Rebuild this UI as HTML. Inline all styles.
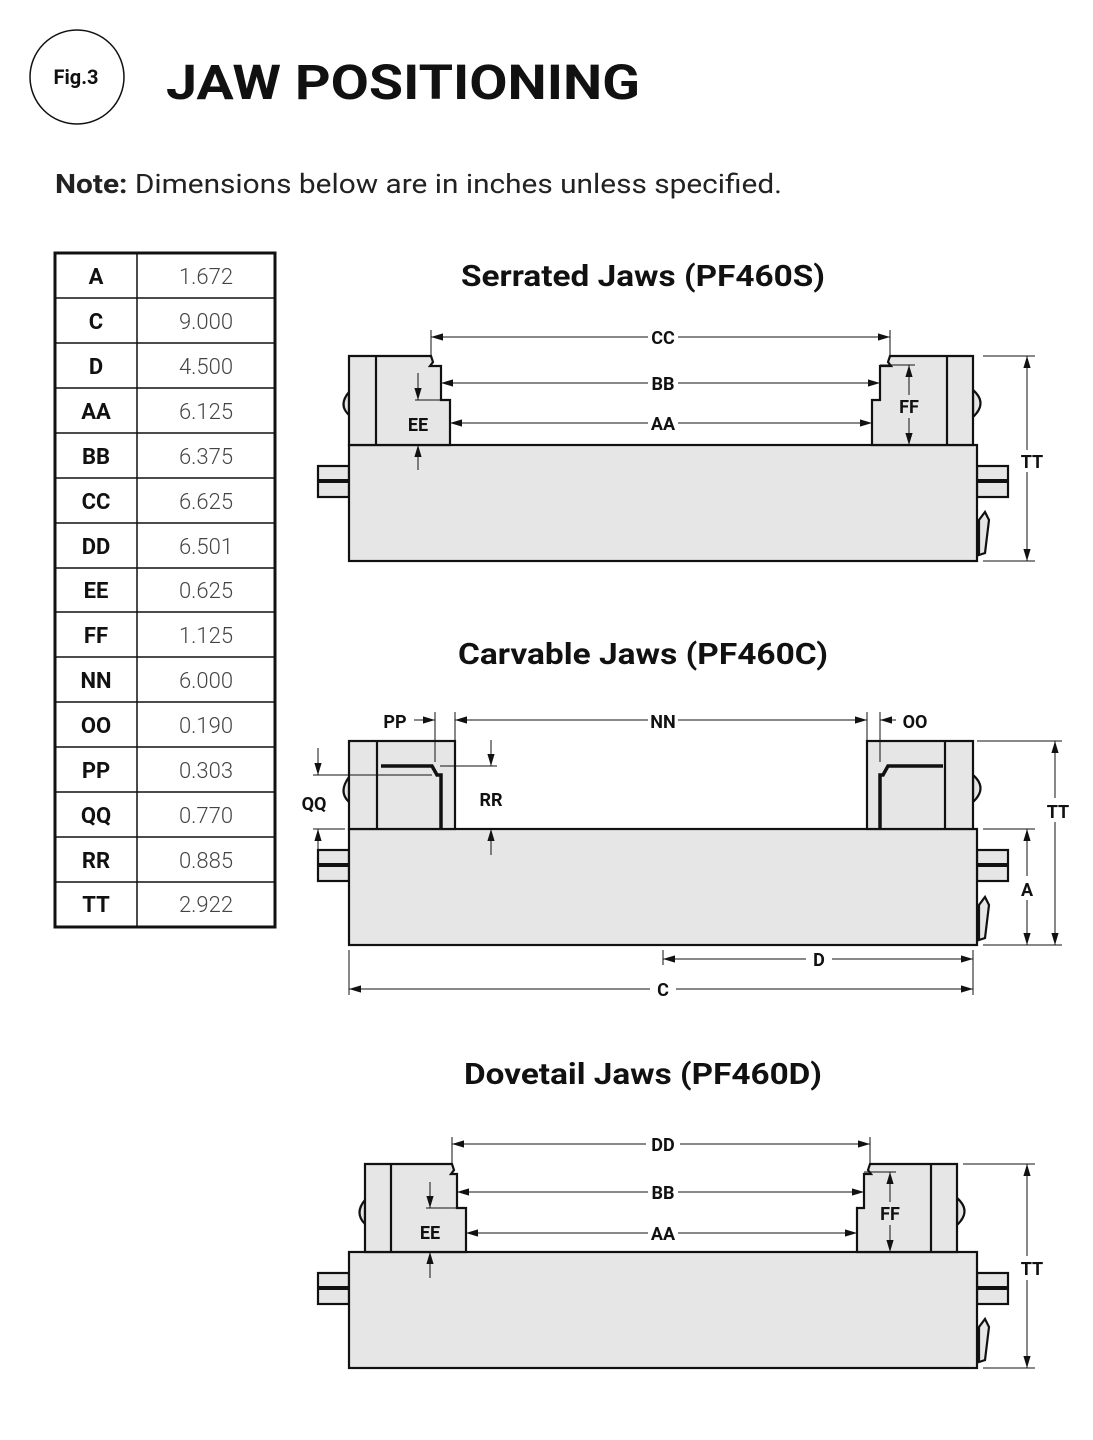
<!DOCTYPE html>
<html><head><meta charset="utf-8"><style>
body{margin:0;background:#fff;}
svg{display:block;font-family:"Roboto","Liberation Sans",sans-serif;}
</style></head><body>
<svg width="1093" height="1440" viewBox="0 0 1093 1440" xmlns="http://www.w3.org/2000/svg">
<defs>
<marker id="a" viewBox="0 0 10 10" refX="10" refY="5" markerWidth="12" markerHeight="12" markerUnits="userSpaceOnUse" orient="auto"><path d="M0,2 L10,5 L0,8 z" fill="#111"/></marker>
</defs>
<circle cx="77" cy="77" r="47" fill="none" stroke="#111" stroke-width="1.5"/>
<text x="76" y="84" font-size="20" font-weight="bold" text-anchor="middle" fill="#111">Fig.3</text>
<text x="166" y="99" font-size="48" font-weight="bold" fill="#111" textLength="474" lengthAdjust="spacingAndGlyphs">JAW POSITIONING</text>
<text x="55" y="193" font-size="27" fill="#222" textLength="727" lengthAdjust="spacingAndGlyphs"><tspan font-weight="bold">Note:</tspan> Dimensions below are in inches unless specified.</text>

<!-- table -->
<g stroke="#111" fill="none">
<rect x="55" y="253" width="220" height="674" stroke-width="3"/>
<line x1="137" y1="253" x2="137" y2="927" stroke-width="1.5"/>
<g stroke-width="1.5">
<line x1="55" y1="298" x2="275" y2="298"/><line x1="55" y1="343" x2="275" y2="343"/><line x1="55" y1="388" x2="275" y2="388"/><line x1="55" y1="433" x2="275" y2="433"/><line x1="55" y1="478" x2="275" y2="478"/><line x1="55" y1="523" x2="275" y2="523"/><line x1="55" y1="568" x2="275" y2="568"/><line x1="55" y1="612" x2="275" y2="612"/><line x1="55" y1="657" x2="275" y2="657"/><line x1="55" y1="702" x2="275" y2="702"/><line x1="55" y1="747" x2="275" y2="747"/><line x1="55" y1="792" x2="275" y2="792"/><line x1="55" y1="837" x2="275" y2="837"/><line x1="55" y1="882" x2="275" y2="882"/>
</g></g>
<g font-size="22" fill="#111">
<g font-weight="bold" text-anchor="middle">
<text x="96" y="284">A</text><text x="96" y="329">C</text><text x="96" y="374">D</text><text x="96" y="419">AA</text><text x="96" y="464">BB</text><text x="96" y="509">CC</text><text x="96" y="554">DD</text><text x="96" y="598">EE</text><text x="96" y="643">FF</text><text x="96" y="688">NN</text><text x="96" y="733">OO</text><text x="96" y="778">PP</text><text x="96" y="823">QQ</text><text x="96" y="868">RR</text><text x="96" y="912">TT</text>
</g>
<g text-anchor="middle" fill="#444" font-weight="300">
<text x="206" y="284">1.672</text><text x="206" y="329">9.000</text><text x="206" y="374">4.500</text><text x="206" y="419">6.125</text><text x="206" y="464">6.375</text><text x="206" y="509">6.625</text><text x="206" y="554">6.501</text><text x="206" y="598">0.625</text><text x="206" y="643">1.125</text><text x="206" y="688">6.000</text><text x="206" y="733">0.190</text><text x="206" y="778">0.303</text><text x="206" y="823">0.770</text><text x="206" y="868">0.885</text><text x="206" y="912">2.922</text>
</g></g>

<g font-size="30" font-weight="bold" fill="#111">
<text x="461" y="286" textLength="364" lengthAdjust="spacingAndGlyphs">Serrated Jaws (PF460S)</text>
<text x="458" y="664" textLength="370" lengthAdjust="spacingAndGlyphs">Carvable Jaws (PF460C)</text>
<text x="464" y="1084" textLength="358" lengthAdjust="spacingAndGlyphs">Dovetail Jaws (PF460D)</text>
</g>

<g fill="#e6e6e6" stroke="#111" stroke-width="2.2">
<!-- SERRATED -->
<rect x="318" y="466" width="31" height="31"/><line x1="318" y1="481" x2="349" y2="481" stroke-width="4"/>
<rect x="977" y="466" width="31" height="31"/><line x1="977" y1="481" x2="1008" y2="481" stroke-width="4"/>
<path d="M349,415 Q338,405 349,392 z"/>
<path d="M973,390 Q988,403 973,417 z"/>
<path d="M979,555 L985,553 L989,520 L985,512 L979,520 z"/>
<rect x="349" y="445" width="628" height="116"/>
<path d="M349,445 L349,356 L431,356 L433,362 L430,366 L441,366 L441,400 L450,400 L450,445 z"/>
<line x1="376" y1="356" x2="376" y2="445"/>
<path d="M973,445 L973,356 L890,356 L888,362 L891,366 L880,366 L880,400 L872,400 L872,445 z"/>
<line x1="947" y1="356" x2="947" y2="445"/>

<!-- CARVABLE -->
<rect x="318" y="850" width="31" height="31"/><line x1="318" y1="865" x2="349" y2="865" stroke-width="4"/>
<rect x="977" y="850" width="31" height="31"/><line x1="977" y1="865" x2="1008" y2="865" stroke-width="4"/>
<path d="M349,802 Q338,792 349,777 z"/>
<path d="M973,775 Q988,788 973,802 z"/>
<path d="M979,940 L985,938 L989,905 L985,897 L979,905 z"/>
<rect x="349" y="829" width="628" height="116"/>
<rect x="349" y="741" width="106" height="88"/>
<line x1="377" y1="741" x2="377" y2="829"/>
<rect x="867" y="741" width="106" height="88"/>
<line x1="945" y1="741" x2="945" y2="829"/>

<!-- DOVETAIL -->
<rect x="318" y="1273" width="31" height="31"/><line x1="318" y1="1288" x2="349" y2="1288" stroke-width="4"/>
<rect x="977" y="1273" width="31" height="31"/><line x1="977" y1="1288" x2="1008" y2="1288" stroke-width="4"/>
<path d="M365,1224 Q354,1213 365,1200 z"/>
<path d="M957,1198 Q972,1211 957,1225 z"/>
<path d="M979,1362 L985,1360 L989,1327 L985,1319 L979,1327 z"/>
<rect x="349" y="1252" width="628" height="116"/>
<path d="M365,1252 L365,1164 L452,1164 L454,1170 L451,1174 L457,1174 L457,1208 L466,1208 L466,1252 z"/>
<line x1="391" y1="1164" x2="391" y2="1252"/>
<path d="M957,1252 L957,1164 L870,1164 L868,1170 L871,1174 L864,1174 L864,1208 L857,1208 L857,1252 z"/>
<line x1="931" y1="1164" x2="931" y2="1252"/>
</g>
<g fill="none" stroke="#111" stroke-width="3.5">
<path d="M381,766 L432,766 L437,775 L441,775 L441,829"/>
<path d="M943,766 L888,766 L883,775 L880,775 L880,829"/>
</g>

<!-- dimensions -->
<g stroke="#111" stroke-width="1" fill="none">
<line x1="431" y1="330" x2="431" y2="356"/><line x1="890" y1="330" x2="890" y2="356"/>
<line x1="648" y1="337" x2="431" y2="337" marker-end="url(#a)"/><line x1="678" y1="337" x2="890" y2="337" marker-end="url(#a)"/>
<line x1="648" y1="383" x2="441" y2="383" marker-end="url(#a)"/><line x1="678" y1="383" x2="880" y2="383" marker-end="url(#a)"/>
<line x1="648" y1="423" x2="450" y2="423" marker-end="url(#a)"/><line x1="678" y1="423" x2="872" y2="423" marker-end="url(#a)"/>
<line x1="983" y1="356" x2="1035" y2="356"/><line x1="983" y1="561" x2="1035" y2="561"/>
<line x1="1027" y1="450" x2="1027" y2="356" marker-end="url(#a)"/><line x1="1027" y1="472" x2="1027" y2="561" marker-end="url(#a)"/>
<line x1="415" y1="400" x2="441" y2="400"/>
<line x1="418" y1="373" x2="418" y2="400" marker-end="url(#a)"/><line x1="418" y1="470" x2="418" y2="445" marker-end="url(#a)"/>
<line x1="880" y1="365" x2="915" y2="365"/>
<line x1="909" y1="395" x2="909" y2="365" marker-end="url(#a)"/><line x1="909" y1="418" x2="909" y2="445" marker-end="url(#a)"/>
<line x1="414" y1="720" x2="435" y2="720" marker-end="url(#a)"/><line x1="435" y1="712" x2="435" y2="762"/>
<line x1="455" y1="712" x2="455" y2="741"/><line x1="867" y1="712" x2="867" y2="741"/>
<line x1="648" y1="720" x2="455" y2="720" marker-end="url(#a)"/><line x1="678" y1="720" x2="867" y2="720" marker-end="url(#a)"/>
<line x1="896" y1="720" x2="880" y2="720" marker-end="url(#a)"/><line x1="880" y1="712" x2="880" y2="762"/>
<line x1="313" y1="775" x2="432" y2="775"/><line x1="313" y1="829" x2="345" y2="829"/>
<line x1="318" y1="748" x2="318" y2="775" marker-end="url(#a)"/><line x1="318" y1="855" x2="318" y2="829" marker-end="url(#a)"/>
<line x1="440" y1="766" x2="497" y2="766"/>
<line x1="491" y1="740" x2="491" y2="766" marker-end="url(#a)"/><line x1="491" y1="855" x2="491" y2="829" marker-end="url(#a)"/>
<line x1="977" y1="741" x2="1062" y2="741"/><line x1="983" y1="945" x2="1062" y2="945"/><line x1="983" y1="829" x2="1035" y2="829"/>
<line x1="1055" y1="798" x2="1055" y2="741" marker-end="url(#a)"/><line x1="1055" y1="822" x2="1055" y2="945" marker-end="url(#a)"/>
<line x1="1027" y1="876" x2="1027" y2="829" marker-end="url(#a)"/><line x1="1027" y1="900" x2="1027" y2="945" marker-end="url(#a)"/>
<line x1="349" y1="950" x2="349" y2="995"/><line x1="973" y1="950" x2="973" y2="995"/><line x1="663" y1="950" x2="663" y2="965"/>
<line x1="806" y1="959" x2="663" y2="959" marker-end="url(#a)"/><line x1="832" y1="959" x2="973" y2="959" marker-end="url(#a)"/>
<line x1="650" y1="989" x2="349" y2="989" marker-end="url(#a)"/><line x1="676" y1="989" x2="973" y2="989" marker-end="url(#a)"/>
<line x1="452" y1="1137" x2="452" y2="1164"/><line x1="870" y1="1137" x2="870" y2="1164"/>
<line x1="646" y1="1144" x2="452" y2="1144" marker-end="url(#a)"/><line x1="680" y1="1144" x2="870" y2="1144" marker-end="url(#a)"/>
<line x1="648" y1="1192" x2="457" y2="1192" marker-end="url(#a)"/><line x1="678" y1="1192" x2="864" y2="1192" marker-end="url(#a)"/>
<line x1="648" y1="1233" x2="466" y2="1233" marker-end="url(#a)"/><line x1="678" y1="1233" x2="857" y2="1233" marker-end="url(#a)"/>
<line x1="963" y1="1164" x2="1035" y2="1164"/><line x1="983" y1="1368" x2="1035" y2="1368"/>
<line x1="1027" y1="1256" x2="1027" y2="1164" marker-end="url(#a)"/><line x1="1027" y1="1280" x2="1027" y2="1368" marker-end="url(#a)"/>
<line x1="426" y1="1208" x2="457" y2="1208"/>
<line x1="430" y1="1182" x2="430" y2="1208" marker-end="url(#a)"/><line x1="430" y1="1278" x2="430" y2="1252" marker-end="url(#a)"/>
<line x1="864" y1="1172" x2="896" y2="1172"/>
<line x1="890" y1="1202" x2="890" y2="1172" marker-end="url(#a)"/><line x1="890" y1="1225" x2="890" y2="1252" marker-end="url(#a)"/>
</g>
<g font-size="18" font-weight="bold" fill="#111" text-anchor="middle">
<text x="663" y="344">CC</text><text x="663" y="390">BB</text><text x="663" y="430">AA</text>
<text x="1032" y="468">TT</text><text x="418" y="431">EE</text><text x="909" y="413">FF</text>
<text x="395" y="728">PP</text><text x="663" y="728">NN</text><text x="915" y="728">OO</text>
<text x="314" y="810">QQ</text><text x="491" y="806">RR</text>
<text x="1058" y="818">TT</text><text x="1027" y="896">A</text>
<text x="819" y="966">D</text><text x="663" y="996">C</text>
<text x="663" y="1151">DD</text><text x="663" y="1199">BB</text><text x="663" y="1240">AA</text>
<text x="1032" y="1275">TT</text><text x="430" y="1239">EE</text><text x="890" y="1220">FF</text>
</g>
</svg>
</body></html>
